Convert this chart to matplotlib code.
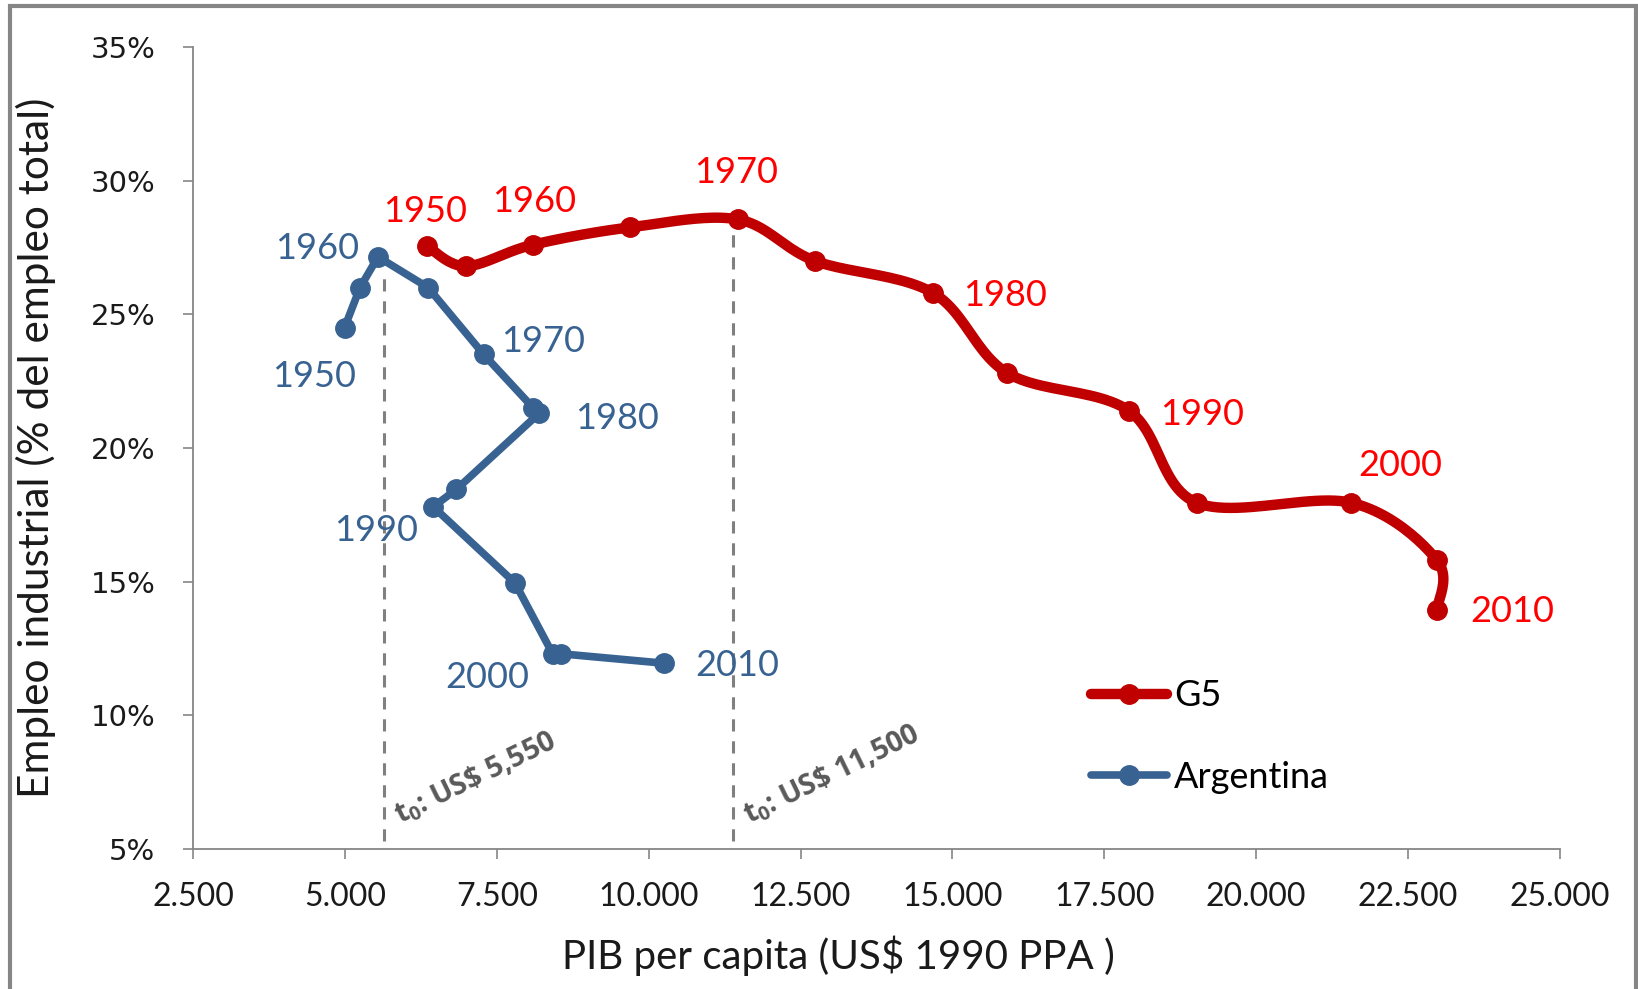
import numpy as np
import matplotlib.pyplot as plt
from matplotlib.patches import Rectangle

plt.rcParams["mathtext.default"] = "regular"

# Argentina: PIB per capita (US$ 1990) and industrial employment (%)
arg_x = [4995, 5250, 5545, 6370, 7285, 8100, 8200, 6835, 6455, 7800, 8420, 8560, 10245]
arg_y = [24.5, 26.0, 27.15, 26.0, 23.5, 21.5, 21.3, 18.45, 17.8, 14.95, 12.3, 12.3, 11.95]
arg_years = {0: "1950", 2: "1960", 4: "1970", 6: "1980", 8: "1990", 10: "2000", 12: "2010"}

# G5
g5_x = [6355, 6990, 8090, 9690, 11465, 12735, 14680, 15905, 17900, 19020, 21565, 22975, 22975]
g5_y = [27.55, 26.8, 27.6, 28.25, 28.55, 27.0, 25.8, 22.8, 21.4, 17.95, 17.95, 15.8, 13.95]
g5_years = {0: "1950", 2: "1960", 4: "1970", 6: "1980", 8: "1990", 10: "2000", 12: "2010"}

# t0 reference lines
t0_x = [5640, 11390]
t0_top = [26.6, 28.3]
t0_text = [r"t$_0$: US\$ 5,550", r"t$_0$: US\$ 11,500"]

x_ticks = np.arange(2500, 25001, 2500)
y_ticks = np.arange(5, 36, 5)

RED = "#C00000"
RED_TXT = "#FF0000"
BLUE = "#386291"
GRAY = "#868686"


def smooth(xs, ys, n=25):
    # bezier smoothing like Excel's "smoothed line"
    p = np.column_stack([xs, ys]).astype(float)
    p = np.vstack([p[0], p, p[-1]])
    t = np.linspace(0, 1, n)[:, None]
    out = []
    for i in range(1, len(p) - 2):
        p0, p1, p2, p3 = p[i - 1], p[i], p[i + 1], p[i + 2]
        c1 = p1 + (p2 - p0) / 6
        c2 = p2 - (p3 - p1) / 6
        out.append((1 - t)**3 * p1 + 3 * (1 - t)**2 * t * c1 + 3 * (1 - t) * t**2 * c2 + t**3 * p2)
    out = np.vstack(out)
    return out[:, 0], out[:, 1]


fig = plt.figure(figsize=(16.38, 9.89), dpi=100)
ax = fig.add_axes([0.1178, 0.1416, 0.8346, 0.8109])

# outer chart border
fig.patches.append(Rectangle((10 / 1638, -0.02), 1626 / 1638, 1.02 - 6 / 989, transform=fig.transFigure,
                             fill=False, edgecolor=GRAY, linewidth=3))

for xv, top, txt in zip(t0_x, t0_top, t0_text):
    ax.plot([xv, xv], [5.3, top], color="#808080", lw=2.2, ls=(0, (4, 3.2)), zorder=1)
    ax.text(xv + 260, 5.95, txt, rotation=26, rotation_mode="anchor", ha="left", va="baseline",
            fontsize=20.5, fontweight="bold", color="#595959", family="Open Sans")

sx, sy = smooth(g5_x, g5_y)
ax.plot(sx, sy, color=RED, lw=7.5, solid_capstyle="round", zorder=3)
ax.plot(g5_x, g5_y, "o", color=RED, ms=14, zorder=4)
ax.plot(arg_x, arg_y, color=BLUE, lw=5.5, solid_capstyle="round", solid_joinstyle="round", zorder=3)
ax.plot(arg_x, arg_y, "o", color=BLUE, ms=14, zorder=4)

# legend handles
ax.plot([], [], color=RED, lw=7.5, marker="o", ms=14, solid_capstyle="round", label="G5")
ax.plot([], [], color=BLUE, lw=5.5, marker="o", ms=14, solid_capstyle="round", label="Argentina")
h, l = ax.get_legend_handles_labels()
ax.legend(h, l, loc="center left", bbox_to_anchor=(0.657, 0.14), frameon=False, borderpad=0,
          borderaxespad=0, handlelength=2.1, handletextpad=0.2, labelspacing=1.35,
          prop={"family": "Lato", "size": 26})

arg_off = {0: (-22, -35), 2: (-44, 6), 4: (43, 9), 6: (56, -4), 8: (-41, -17), 10: (-47, -17), 12: (53, -1.5)}
g5_off = {0: (-1.5, 25), 2: (1, 31), 4: (-1.5, 34), 6: (52, -2), 8: (53, -3), 10: (35, 26.5), 12: (54, -1.5)}
for i, yr in arg_years.items():
    ax.annotate(yr, (arg_x[i], arg_y[i]), xytext=arg_off[i], textcoords="offset points",
                ha="center", va="center", fontsize=26, color=BLUE, family="Lato")
for i, yr in g5_years.items():
    ax.annotate(yr, (g5_x[i], g5_y[i]), xytext=g5_off[i], textcoords="offset points",
                ha="center", va="center", fontsize=26, color=RED_TXT, family="Lato")

ax.set_xlim(2500, 25000)
ax.set_ylim(5, 35)
ax.set_xticks(x_ticks)
ax.set_xticklabels([f"{v:,.0f}".replace(",", ".") for v in x_ticks], family="Lato", fontsize=23)
ax.set_yticks(y_ticks)
ax.set_yticklabels([f"{v}%" for v in y_ticks], family="DejaVu Sans", fontsize=21)
ax.tick_params(axis="x", length=7, width=1.2, color=GRAY, pad=17, labelcolor="#1a1a1a")
ax.tick_params(axis="y", length=7, width=1.2, color=GRAY, pad=20, labelcolor="#1a1a1a")
for s in ["top", "right"]:
    ax.spines[s].set_visible(False)
for s in ["left", "bottom"]:
    ax.spines[s].set_color(GRAY)
    ax.spines[s].set_linewidth(1.3)

ax.set_xlabel("PIB per capita (US$ 1990 PPA )", family="Lato", fontsize=29, color="#1a1a1a")
ax.xaxis.set_label_coords(0.472, -0.108)
ax.set_ylabel("Empleo industrial (% del empleo total)", family="Lato", fontsize=30.5, color="#1a1a1a")
ax.yaxis.set_label_coords(-0.1, 0.5)

plt.savefig("out.png", dpi=100)
